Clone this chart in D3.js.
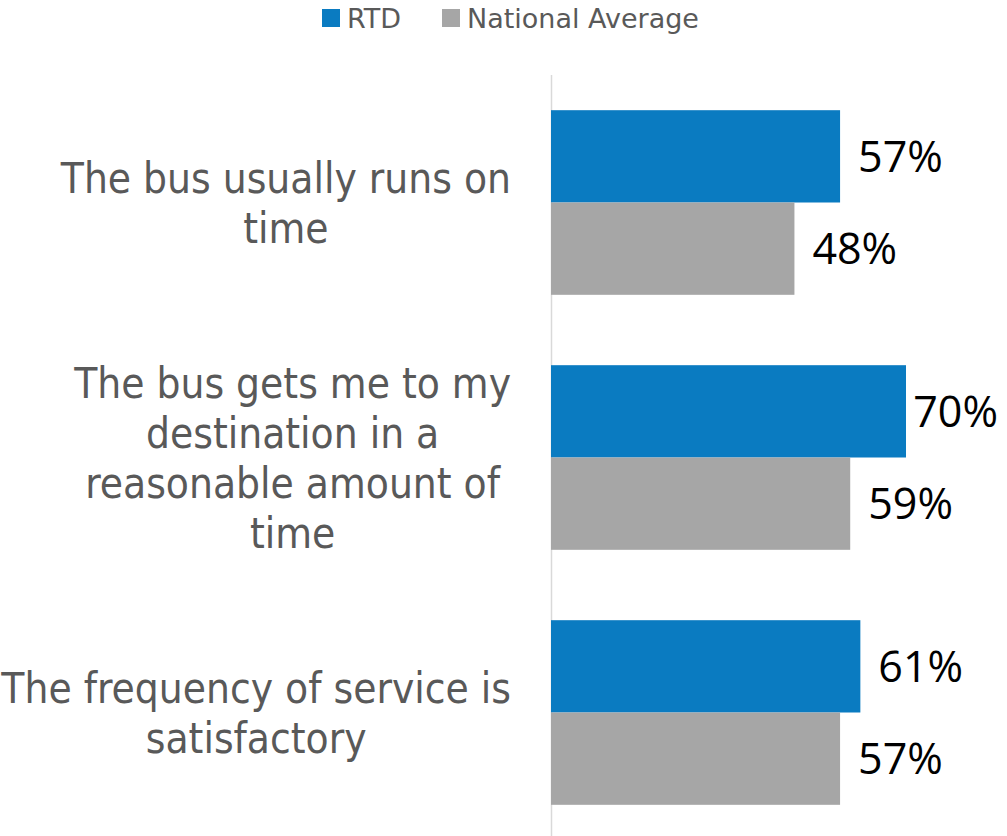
<!DOCTYPE html>
<html>
<head>
<meta charset="utf-8">
<script src="https://cdn.jsdelivr.net/npm/d3@7"></script>
<style>
  body { margin: 0; background: #fff; }
  svg { display: block; }
</style>
</head>
<body>
<svg id="chart" width="1007" height="836"></svg>
<script>
// chart data
const categories = [
  ["The bus usually runs on", "time"],
  ["The bus gets me to my", "destination in a", "reasonable amount of", "time"],
  ["The frequency of service is", "satisfactory"]
];
const seriesNames = ["RTD", "National Average"];
const rtdValues = [0.57, 0.70, 0.61];
const nationalValues = [0.48, 0.59, 0.57];
const colors = ["#0a7bc1", "#a6a6a6"];

const width = 1007, height = 836;
const svg = d3.select("#chart");

const x = d3.scaleLinear().domain([0, 0.7]).range([551, 906]);
const y = d3.scaleBand().domain(d3.range(categories.length)).range([75, 840])
  .paddingInner(0.276).paddingOuter(0.138);
const ySub = d3.scaleBand().domain([0, 1]).range([0, y.bandwidth()]);

const labelFont = "'DejaVu Sans Condensed', 'DejaVu Sans', sans-serif";
const valueFont = "'Open Sans', 'Noto Sans', sans-serif";

// axis line
svg.append("line")
  .attr("x1", x(0) + 0.5).attr("x2", x(0) + 0.5)
  .attr("y1", 75).attr("y2", height)
  .attr("stroke", "#d9d9d9").attr("stroke-width", 1.5);

const rows = categories.map(function(c, i) {
  return [rtdValues[i], nationalValues[i]];
});

const group = svg.selectAll("g.cat")
  .data(rows)
  .enter().append("g")
  .attr("class", "cat")
  .attr("transform", function(d, i) { return "translate(0," + y(i) + ")"; });

group.selectAll("rect")
  .data(function(d) { return d; })
  .enter().append("rect")
  .attr("x", x(0))
  .attr("y", function(d, j) { return ySub(j); })
  .attr("width", function(d) { return x(d) - x(0); })
  .attr("height", ySub.bandwidth())
  .attr("fill", function(d, j) { return colors[j]; });

// value labels, pushed left when they would run off the plot
group.selectAll("text.val")
  .data(function(d) { return d; })
  .enter().append("text")
  .attr("class", "val")
  .attr("y", function(d, j) { return ySub(j) + ySub.bandwidth() / 2; })
  .attr("dy", "0.36em")
  .style("font-family", valueFont)
  .style("font-size", "43px")
  .attr("fill", "#000")
  .text(function(d) { return d3.format(".0%")(d); })
  .each(function(d) {
    const w = this.getComputedTextLength();
    let tx = x(d) + 18;
    if (tx + w > 998) tx = 998 - w;
    d3.select(this).attr("x", tx);
  });

// category labels (wrapped lines, centred inside a right-aligned block)
const lineH = 50;
categories.forEach(function(lines, i) {
  const cy = y(i) + y.bandwidth() / 2;
  const t = svg.append("text")
    .style("font-family", labelFont)
    .style("font-size", "42px")
    .attr("fill", "#595959")
    .attr("text-anchor", "middle");
  const spans = t.selectAll("tspan").data(lines).enter().append("tspan")
    .attr("y", function(d, k) { return cy + (k - (lines.length - 1) / 2) * lineH + 15; })
    .text(function(d) { return d; });
  let maxW = 0;
  spans.each(function() { maxW = Math.max(maxW, this.getComputedTextLength()); });
  spans.attr("x", 511 - maxW / 2);
});

// legend
const legend = svg.append("g");
const legendItems = [{ name: seriesNames[0], x: 322 }, { name: seriesNames[1], x: 442 }];
legendItems.forEach(function(item, i) {
  legend.append("rect")
    .attr("x", item.x).attr("y", 9)
    .attr("width", 18).attr("height", 18)
    .attr("fill", colors[i]);
  legend.append("text")
    .attr("x", item.x + 25).attr("y", 28)
    .style("font-family", "'DejaVu Sans', sans-serif")
    .style("font-size", "27px")
    .attr("fill", "#595959")
    .text(item.name);
});
</script>
</body>
</html>
